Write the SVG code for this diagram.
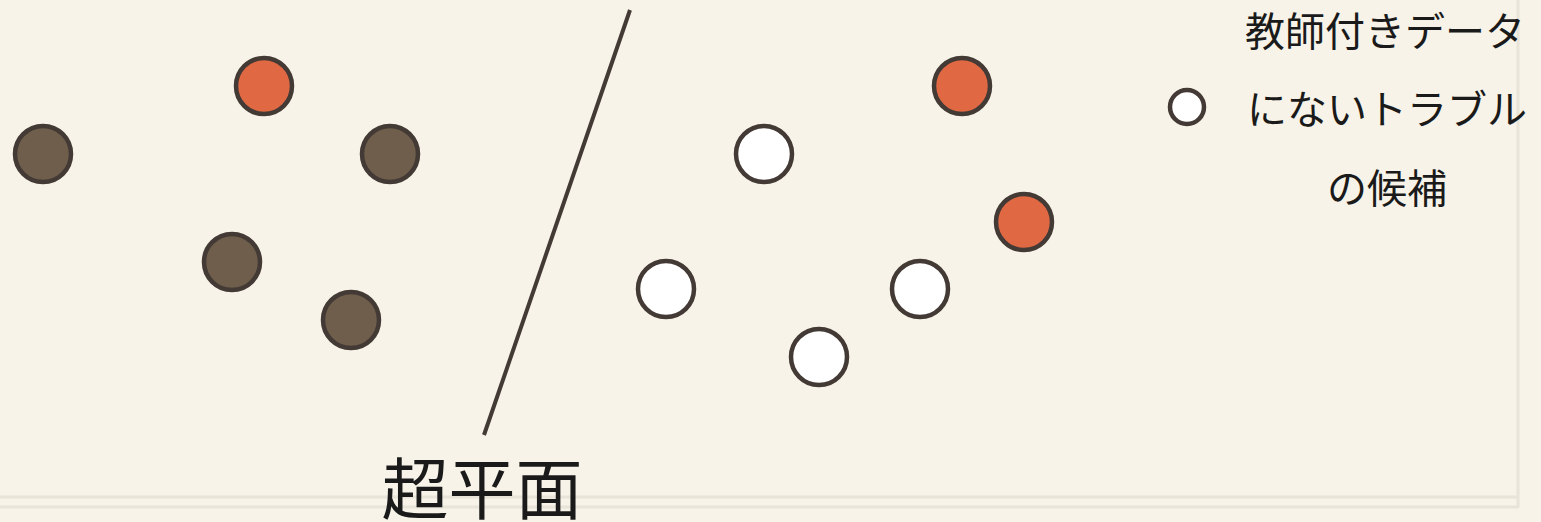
<svg xmlns="http://www.w3.org/2000/svg" width="1541" height="522" viewBox="0 0 1541 522">
<style>
.bg{fill:#f7f3e8}
.frame{stroke:#e8e4d8;stroke-width:3;fill:none}
.dot{stroke:#433a35;stroke-width:4.5}
.red{fill:#e06843}
.brown{fill:#6e5e4b}
.white{fill:#ffffff}
.lbl{font-family:"Noto Sans CJK JP","Noto Sans CJK SC",sans-serif;fill:#1a1a1a}
</style>
<rect class="bg" x="0" y="0" width="1541" height="522"/>
<g id="frame">
<line class="frame" x1="1518" y1="0" x2="1518" y2="508"/>
<line class="frame" x1="0" y1="497" x2="1518" y2="497"/>
<line class="frame" x1="0" y1="507" x2="1518" y2="507"/>
</g>
<g id="connectors">
<line x1="630" y1="10" x2="484" y2="435" stroke="#433a35" stroke-width="4"/>
</g>
<g id="label-hyperplane"><text class="lbl" x="482" y="514" font-size="67" text-anchor="middle">超平面</text></g>
<g id="r1"><circle class="dot red" cx="264" cy="86" r="28"/></g>
<g id="b1"><circle class="dot brown" cx="43" cy="154" r="28"/></g>
<g id="b2"><circle class="dot brown" cx="390" cy="154" r="28"/></g>
<g id="b3"><circle class="dot brown" cx="232" cy="262" r="28"/></g>
<g id="b4"><circle class="dot brown" cx="351" cy="320" r="28"/></g>
<g id="w1"><circle class="dot white" cx="764" cy="154" r="28"/></g>
<g id="w2"><circle class="dot white" cx="666" cy="289" r="28"/></g>
<g id="w3"><circle class="dot white" cx="920" cy="289" r="28"/></g>
<g id="w4"><circle class="dot white" cx="819" cy="357" r="28"/></g>
<g id="r2"><circle class="dot red" cx="962" cy="86" r="28"/></g>
<g id="r3"><circle class="dot red" cx="1024" cy="222" r="28"/></g>
<g id="legend">
<circle class="dot white" cx="1187" cy="107" r="17"/>
<text class="lbl" x="1385" y="46" font-size="40" text-anchor="middle">教師付きデータ</text>
<text class="lbl" x="1387" y="124" font-size="40" text-anchor="middle">にないトラブル</text>
<text class="lbl" x="1387" y="203" font-size="40" text-anchor="middle">の候補</text>
</g>
</svg>
